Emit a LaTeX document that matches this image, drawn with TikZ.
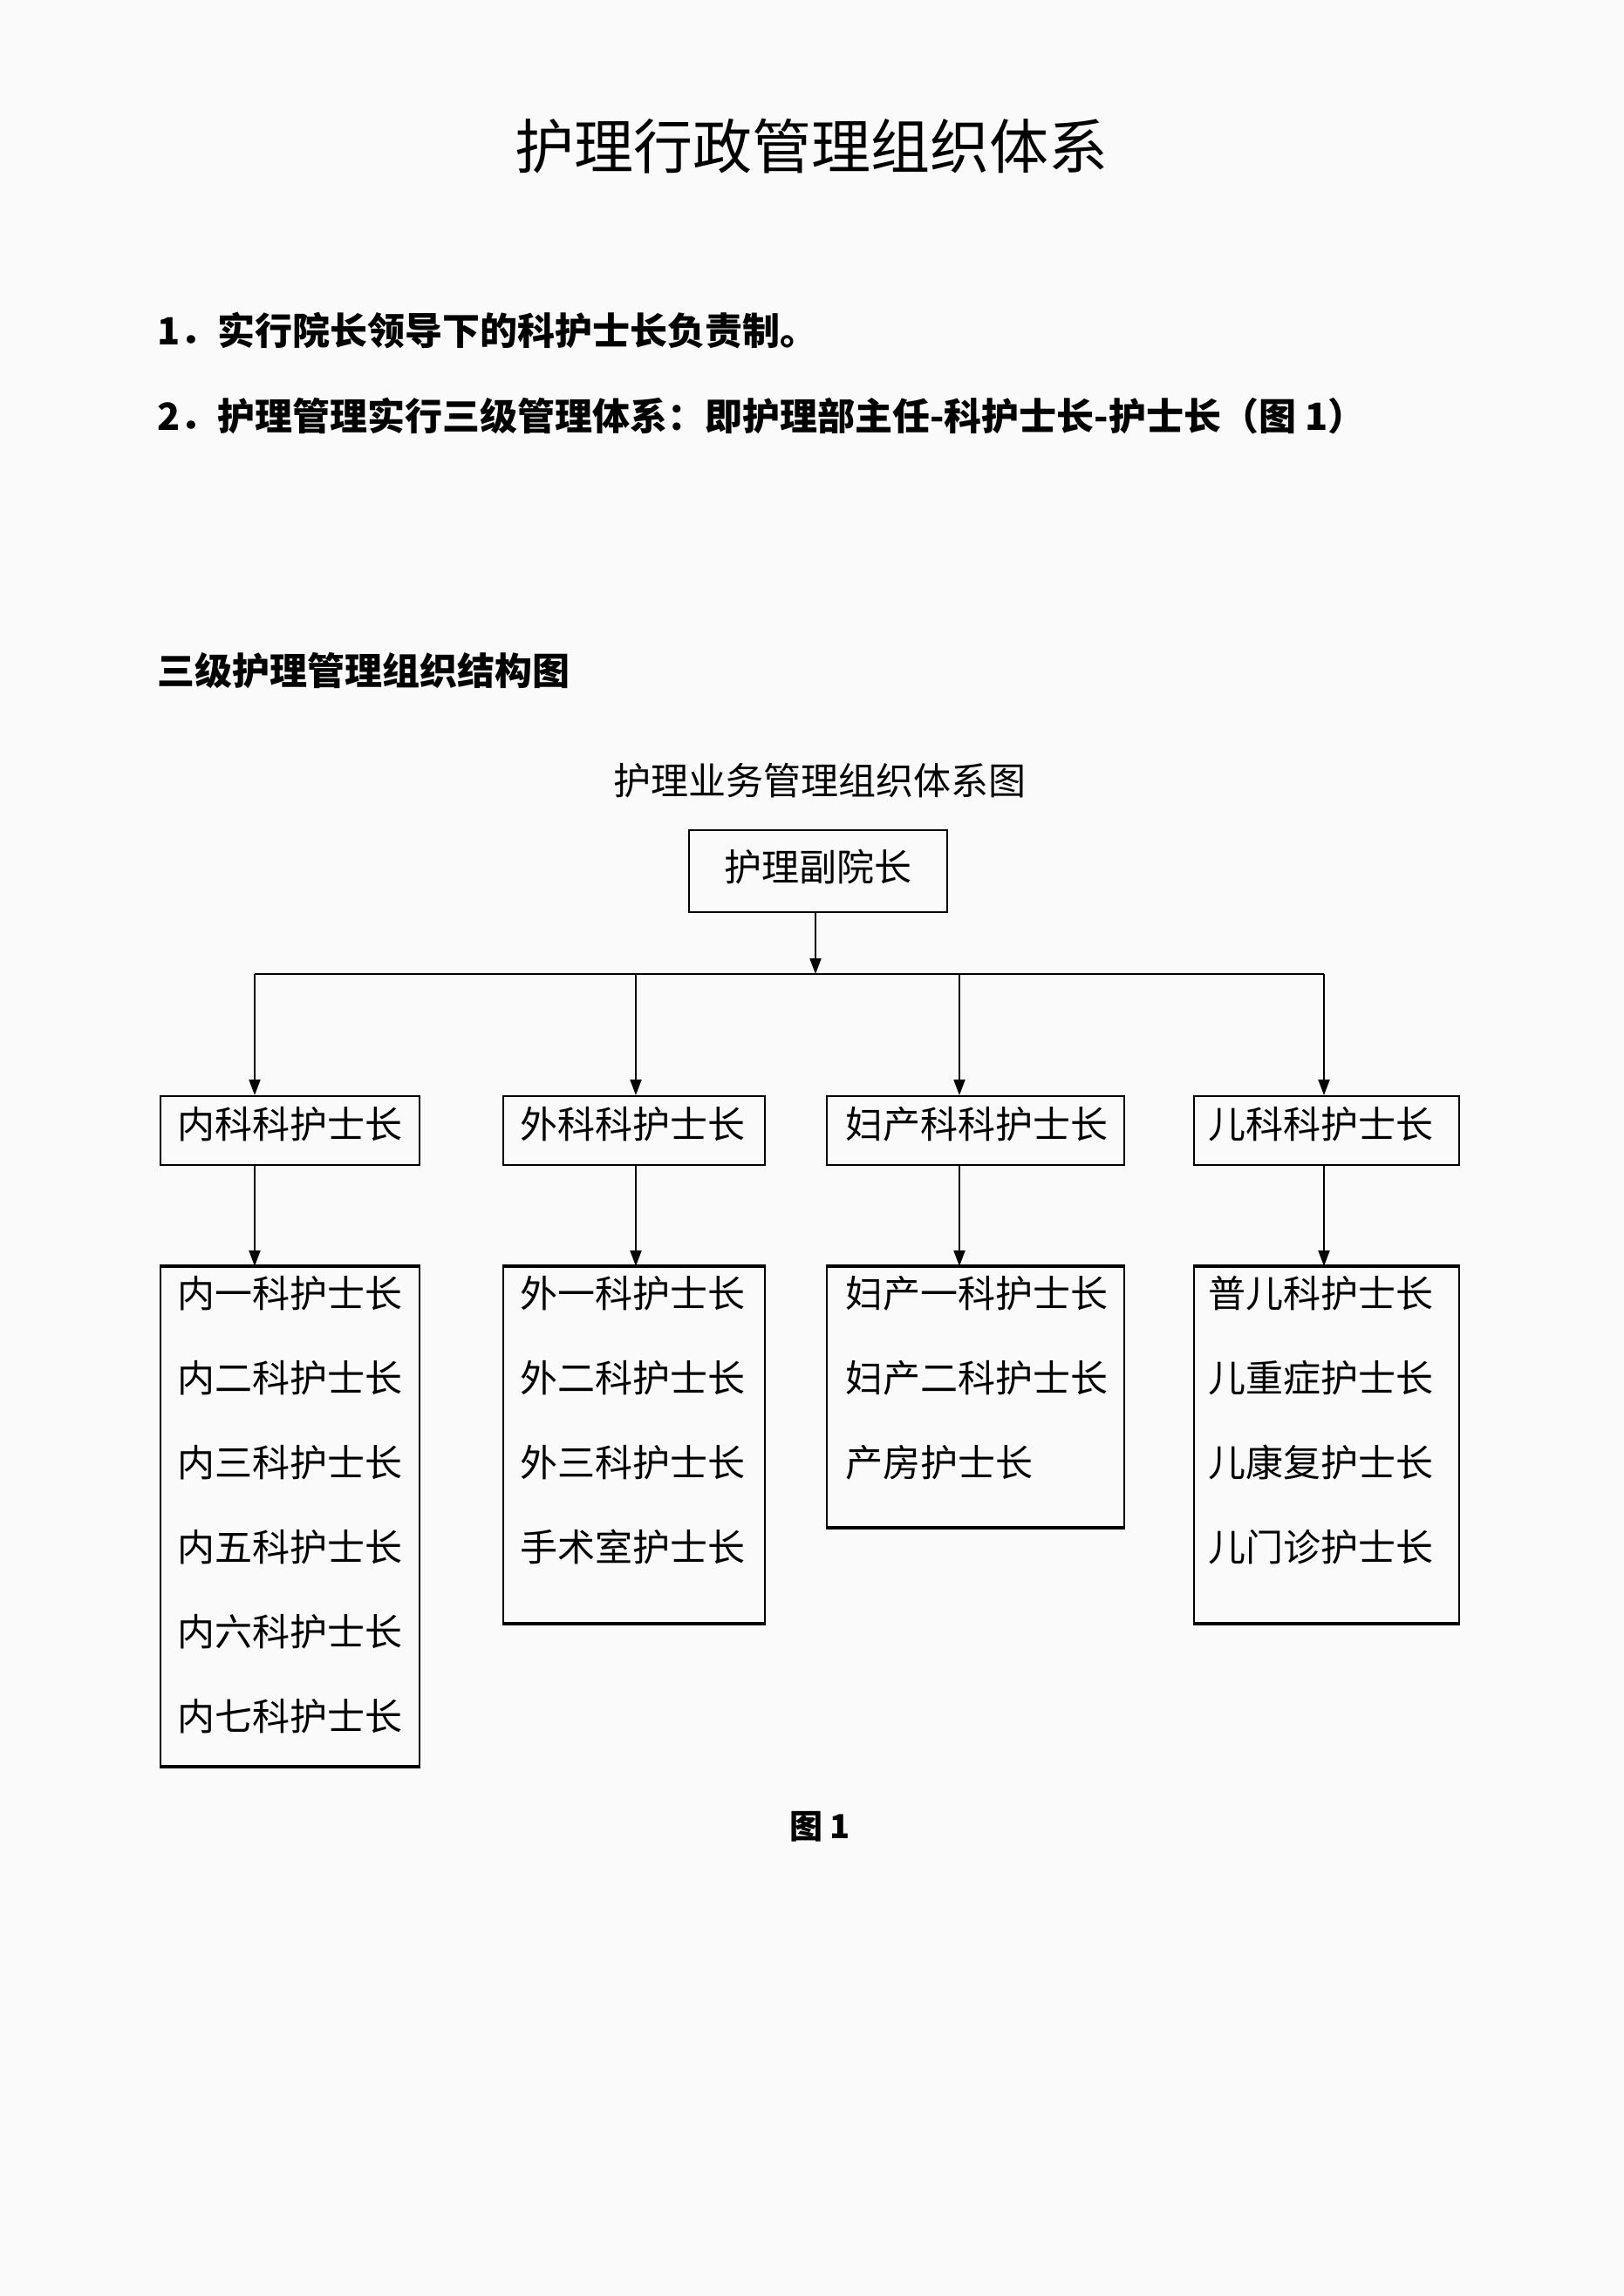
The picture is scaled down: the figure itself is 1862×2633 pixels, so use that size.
\documentclass[tikz,border=0pt]{standalone}
\usepackage{fontspec}
\setmainfont{Noto Sans CJK SC}
\newfontfamily\cjk{Noto Sans CJK SC}
\usetikzlibrary{arrows.meta}
\definecolor{bg}{RGB}{250,250,250}
\tikzset{
  txt/.style={inner sep=0pt, font=\cjk\fontsize{43}{50}\selectfont},
  btxt/.style={inner sep=0pt, font=\cjk\bfseries\fontsize{43}{50}\selectfont},
  boxstyle/.style={draw, line width=2pt, inner sep=0pt},
  thickedge/.style={line width=4.5pt},
  conn/.style={line width=2pt},
  arr/.style={line width=2pt, -{Triangle[length=18pt,width=13pt]}},
}
\begin{document}
\begin{tikzpicture}[x=1pt,y=-1pt]
\fill[bg] (0,0) rectangle (1862,2633);
\useasboundingbox (0,0) rectangle (1862,2633);

% header texts
\node[inner sep=0pt, font=\cjk\fontsize{68}{76}\selectfont] (title) at (930,168) {护理行政管理组织体系};
\node[btxt, anchor=west] (p1) at (180,379) {1．实行院长领导下的科护士长负责制。};
\node[btxt, anchor=west] (p2) at (180,477) {2．护理管理实行三级管理体系：即护理部主任-科护士长-护士长（图 1）};
\node[btxt, anchor=west] (h1) at (180,769) {三级护理管理组织结构图};
\node[txt] (h2) at (940,895) {护理业务管理组织体系图};

% top box
\node[boxstyle, minimum width=296pt, minimum height=94pt] (top) at (938,999) {};
\node[txt] (topt) at (938,994) {护理副院长};

% bus
\coordinate (bus0) at (935,1117);
\coordinate (b1) at (292,1117);
\coordinate (b2) at (729,1117);
\coordinate (b3) at (1100,1117);
\coordinate (b4) at (1518,1117);
\draw[conn] (b1) -- (b4);
\draw[arr] (top.south -| bus0) -- (bus0);

% level 2 boxes
\node[boxstyle, anchor=north west, minimum width=297pt, minimum height=79pt] (l1) at (183,1256) {};
\node[boxstyle, anchor=north west, minimum width=300pt, minimum height=79pt] (l2) at (576,1256) {};
\node[boxstyle, anchor=north west, minimum width=341pt, minimum height=79pt] (l3) at (947,1256) {};
\node[boxstyle, anchor=north west, minimum width=304pt, minimum height=79pt] (l4) at (1368,1256) {};
\node[txt, anchor=west] (l1t) at (203,1289) {内科科护士长};
\node[txt, anchor=west] (l2t) at (596,1289) {外科科护士长};
\node[txt, anchor=west] (l3t) at (969,1289) {妇产科科护士长};
\node[txt, anchor=west] (l4t) at (1385,1289) {儿科科护士长};

\draw[arr] (b1) -- (b1 |- l1.north);
\draw[arr] (b2) -- (b2 |- l2.north);
\draw[arr] (b3) -- (b3 |- l3.north);
\draw[arr] (b4) -- (b4 |- l4.north);

% level 3 boxes
\node[boxstyle, anchor=north west, minimum width=297pt, minimum height=572pt] (c1) at (183,1452) {};
\node[boxstyle, anchor=north west, minimum width=300pt, minimum height=408pt] (c2) at (576,1452) {};
\node[boxstyle, anchor=north west, minimum width=341pt, minimum height=298pt] (c3) at (947,1452) {};
\node[boxstyle, anchor=north west, minimum width=304pt, minimum height=408pt] (c4) at (1368,1452) {};
\foreach \c in {c1,c2,c3,c4}{
  \draw[thickedge] (\c.north west) -- (\c.north east);
  \draw[thickedge] (\c.south west) -- (\c.south east);
}

\draw[arr] (b1 |- l1.south) -- (b1 |- c1.north);
\draw[arr] (b2 |- l2.south) -- (b2 |- c2.north);
\draw[arr] (b3 |- l3.south) -- (b3 |- c3.north);
\draw[arr] (b4 |- l4.south) -- (b4 |- c4.north);

% level 3 texts
\node[txt, anchor=west] (c1a) at (203,1483) {内一科护士长};
\node[txt, anchor=west] (c1b) at (203,1580) {内二科护士长};
\node[txt, anchor=west] (c1c) at (203,1677) {内三科护士长};
\node[txt, anchor=west] (c1d) at (203,1774) {内五科护士长};
\node[txt, anchor=west] (c1e) at (203,1871) {内六科护士长};
\node[txt, anchor=west] (c1f) at (203,1968) {内七科护士长};

\node[txt, anchor=west] (c2a) at (596,1483) {外一科护士长};
\node[txt, anchor=west] (c2b) at (596,1580) {外二科护士长};
\node[txt, anchor=west] (c2c) at (596,1677) {外三科护士长};
\node[txt, anchor=west] (c2d) at (596,1774) {手术室护士长};

\node[txt, anchor=west] (c3a) at (969,1483) {妇产一科护士长};
\node[txt, anchor=west] (c3b) at (969,1580) {妇产二科护士长};
\node[txt, anchor=west] (c3c) at (969,1677) {产房护士长};

\node[txt, anchor=west] (c4a) at (1385,1483) {普儿科护士长};
\node[txt, anchor=west] (c4b) at (1385,1580) {儿重症护士长};
\node[txt, anchor=west] (c4c) at (1385,1677) {儿康复护士长};
\node[txt, anchor=west] (c4d) at (1385,1774) {儿门诊护士长};

% caption
\node[inner sep=0pt, font=\cjk\bfseries\fontsize{38}{44}\selectfont] (cap) at (940,2095) {图 1};
\end{tikzpicture}
\end{document}
